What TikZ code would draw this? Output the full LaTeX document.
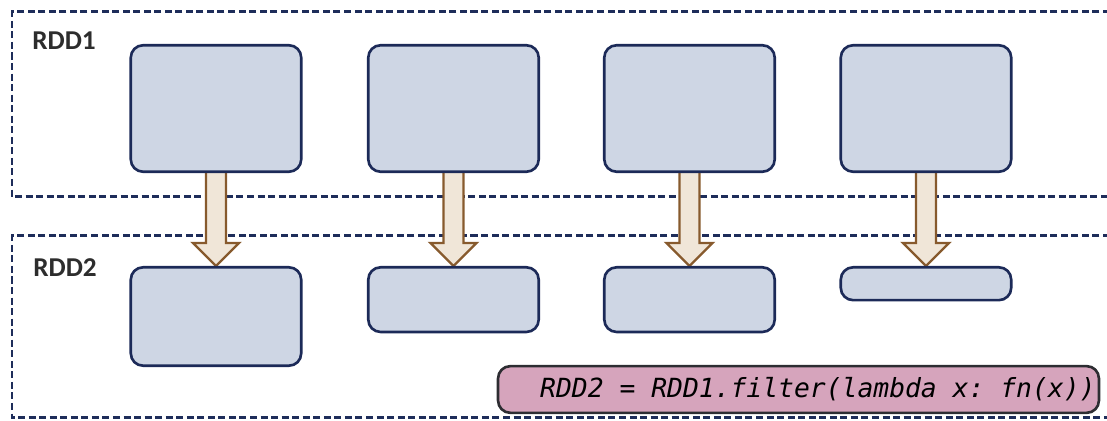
\documentclass[tikz,border=0pt]{standalone}
\usepackage{fontspec}
\setmainfont{Carlito}
\newfontfamily\codefont{DejaVu Sans Mono}
\newcommand{\fixedspaces}{\spaceskip=0.602em\relax\xspaceskip=\spaceskip}
\usetikzlibrary{calc,backgrounds}

\definecolor{partfill}{RGB}{206,214,228}
\definecolor{partline}{RGB}{28,42,88}
\definecolor{arrowfill}{RGB}{240,230,216}
\definecolor{arrowline}{RGB}{135,90,45}
\definecolor{codefill}{RGB}{214,164,188}
\definecolor{codeline}{RGB}{45,45,50}
\definecolor{frameline}{RGB}{30,45,90}
\definecolor{labeltext}{RGB}{45,45,45}

\tikzset{
    partition/.style={draw=partline, fill=partfill, line width=1.5pt, rounded corners=7pt, minimum width=97pt},
    rddframe/.style={draw=frameline, line width=1.7pt, dash pattern=on 4pt off 2pt},
    bigarrow/.style={draw=arrowline, fill=arrowfill, line width=1.3pt, line join=miter},
    rddlabel/.style={anchor=base west, inner sep=0pt, text=labeltext, font=\bfseries\fontsize{15.5}{18}\selectfont},
    codebox/.style={draw=codeline, fill=codefill, line width=1.5pt, rounded corners=7pt, text width=342pt, align=left, inner xsep=0pt, minimum height=26.6pt, font=\codefont\itshape\fontsize{15}{17}\selectfont}
}

\begin{document}
\begin{tikzpicture}[x=0.02cm, y=-0.02cm]
    \useasboundingbox (0,0) rectangle (1107,421);

    % Partitions of both RDDs (one column per partition)
    \foreach \x/\h [count=\i] in {216/56, 453.5/36.8, 689.5/36.8, 926/18.7} {
        \node[partition, minimum height=72pt] (a\i) at (\x,108.5) {};
        \node[partition, minimum height=\h pt, anchor=north] (b\i) at (\x,266) {};
    }

    % Labels
    \node[rddlabel] (rdd1) at (32,50) {RDD1};
    \node[rddlabel] (rdd2) at (33,277) {RDD2};

    % Code line
    \node[codebox] (code) at (798.5,389.5) {\fixedspaces\hspace*{24pt}RDD2 = RDD1.filter(lambda x: fn(x))};

    \begin{scope}[on background layer]
        % Dashed frames, open to the right
        \draw[rddframe] (1110,12) -- (12,12) -- (12,197) -- (1110,197);
        \draw[rddframe] (1110,236) -- (12,236) -- (12,418) -- (1110,418);

        % Hollow arrows from each partition to its filtered one
        \foreach \i in {1,...,4} {
            \draw[bigarrow] ($(a\i.south)+(-10,0)$) -- ($(b\i.north)+(-10,-23)$)
                -- ($(b\i.north)+(-23,-23)$) -- (b\i.north)
                -- ($(b\i.north)+(23,-23)$) -- ($(b\i.north)+(10,-23)$)
                -- ($(a\i.south)+(10,0)$);
        }
    \end{scope}
\end{tikzpicture}
\end{document}
